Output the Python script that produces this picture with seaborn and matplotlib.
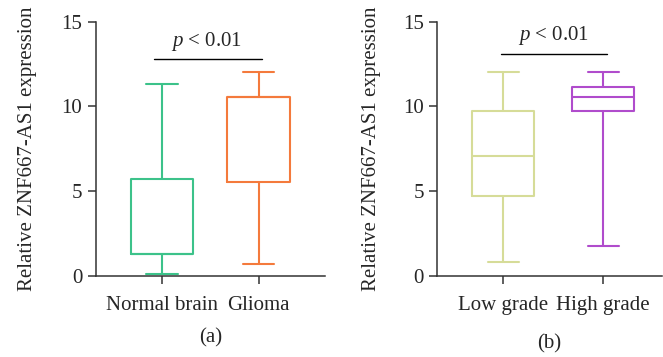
import matplotlib
matplotlib.use("Agg")
import matplotlib.pyplot as plt
import pandas as pd
import seaborn as sns

# five-number summaries: [min, q1, median, q3, max]
groups_a = ["Normal brain", "Glioma"]
normal_brain = [0.08, 1.30, 1.30, 5.71, 11.32]
glioma = [0.71, 5.53, 10.57, 10.57, 12.03]

groups_b = ["Low grade", "High grade"]
low_grade = [0.81, 4.73, 7.07, 9.73, 12.05]
high_grade = [1.77, 9.73, 10.57, 11.13, 12.05]

colors_a = ["#3cc28a", "#f47a3c"]
colors_b = ["#d6dc98", "#b04ccc"]

ylabel = "Relative ZNF667-AS1 expression"
pval_a = 12.78
pval_b = 13.11

sns.set_style("ticks")
plt.rcParams["font.family"] = ["Liberation Serif", "DejaVu Serif"]
plt.rcParams["mathtext.fontset"] = "custom"
plt.rcParams["mathtext.it"] = "Liberation Serif:italic"
plt.rcParams["mathtext.rm"] = "Liberation Serif"

fs = 15
spine_c = "#333333"

fig = plt.figure(figsize=(6.63, 3.57), dpi=100)
ax_a = fig.add_axes([0.1448, 0.2277, 0.3452, 0.7113])
ax_b = fig.add_axes([0.6596, 0.2277, 0.3384, 0.7113])


def long_df(names, vals):
    rows = []
    for n, v in zip(names, vals):
        for x in v:
            rows.append({"group": n, "value": x})
    return pd.DataFrame(rows)


def draw(ax, names, vals, colors, width, xlim, bracket, ptxt_y, ptxt_x,
         panel, panel_y, lpad):
    df = long_df(names, vals)
    sns.boxplot(data=df, x="group", y="value", hue="group", order=names,
                hue_order=names, palette=colors, fill=False, whis=(0, 100),
                width=width, linewidth=1.5, legend=False, ax=ax)
    ax.set_ylim(0, 15)
    ax.set_xlim(*xlim)
    ax.set_yticks([0, 5, 10, 15])
    ax.set_xlabel("")
    ax.set_ylabel(ylabel, fontsize=fs, labelpad=lpad)
    ax.tick_params(axis="both", labelsize=fs, length=5.8, width=1.1,
                   color=spine_c)
    ax.tick_params(axis="y", pad=4)
    ax.tick_params(axis="x", pad=9)
    for s in ["top", "right"]:
        ax.spines[s].set_visible(False)
    for s in ["left", "bottom"]:
        ax.spines[s].set_color(spine_c)
        ax.spines[s].set_linewidth(1.1)
    ax.plot(bracket[:2], [bracket[2], bracket[2]], color="black", lw=1.0,
            clip_on=False)
    ax.text(ptxt_x, ptxt_y, r"$\mathit{p}$ < 0.01", ha="center", va="center",
            fontsize=fs)
    ax.text(0.5, panel_y, panel, transform=ax.transAxes, ha="center",
            va="center", fontsize=fs)


draw(ax_a, groups_a, [normal_brain, glioma], colors_a, 0.65,
     (-0.685, 1.686), (-0.083, 1.03, pval_a), 13.85, 0.46, "(a)", -0.245, 18)
draw(ax_b, groups_b, [low_grade, high_grade], colors_b, 0.62,
     (-0.66, 1.584), (-0.02, 1.04, pval_b), 14.2, 0.5, "(b)", -0.27, 16)

fig.savefig("out.png", dpi=100)
